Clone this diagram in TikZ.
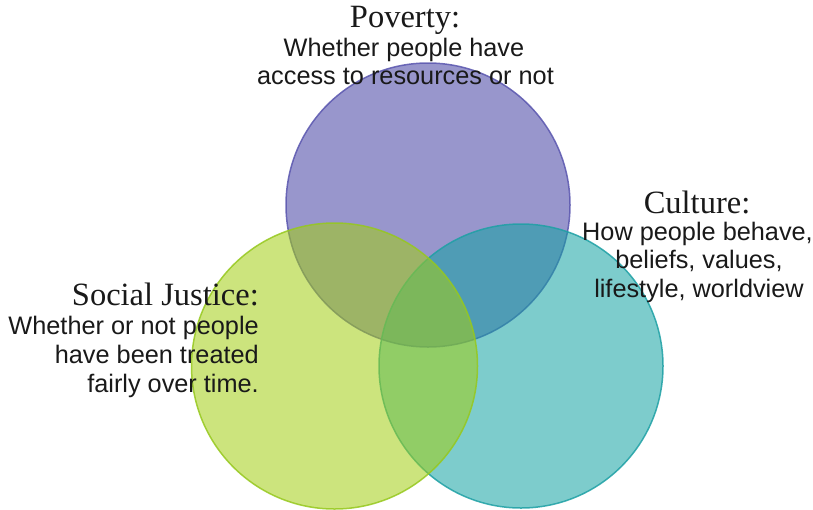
\documentclass[tikz,border=0pt]{standalone}
\usepackage{fontspec}
\setmainfont{Liberation Serif}
\newfontfamily\bodyfont{Liberation Sans}
\definecolor{pov}{RGB}{68,64,162}
\definecolor{povline}{RGB}{90,86,175}
\definecolor{cul}{RGB}{19,162,162}
\definecolor{culline}{RGB}{30,160,165}
\definecolor{soc}{RGB}{162,206,19}
\definecolor{socline}{RGB}{150,200,30}
\definecolor{txt}{RGB}{25,25,25}
\begin{document}
\begin{tikzpicture}[x=1pt,y=-1pt,
  ring/.style={line width=1.5pt, fill opacity=0.55, draw opacity=0.85},
  ttl/.style={anchor=base, inner sep=0pt, text=txt, font=\fontsize{32.5}{32.5}\selectfont},
  body/.style={anchor=base, inner sep=0pt, text=txt, font=\bodyfont\fontsize{25.3}{29}\selectfont}]
\useasboundingbox (0,0) rectangle (813,509);
% circles
\draw[ring, fill=pov, draw=povline] (428,205) circle[radius=142];
\draw[ring, fill=cul, draw=culline] (521,366) circle[radius=142];
\draw[ring, fill=soc, draw=socline] (334.5,366) circle[radius=143];
% Poverty
\node[ttl] (povt) at (405,27) {Poverty:};
\node[body] (pov1) at (404,56) {Whether people have};
\node[body] (pov2) at (405.5,84) {access to resources or not};
% Culture
\node[ttl] (cult) at (697,213) {Culture:};
\node[body] (cul1) at (697.5,240) {How people behave,};
\node[body] (cul2) at (699,268) {beliefs, values,};
\node[body] (cul3) at (699,297) {lifestyle, worldview};
% Social Justice
\node[ttl, anchor=base east] (soct) at (259,305) {Social Justice:};
\node[body, anchor=base east] (soc1) at (259,334) {Whether or not people};
\node[body, anchor=base east] (soc2) at (259,363) {have been treated};
\node[body, anchor=base east] (soc3) at (259,392) {fairly over time.};
\end{tikzpicture}
\end{document}
